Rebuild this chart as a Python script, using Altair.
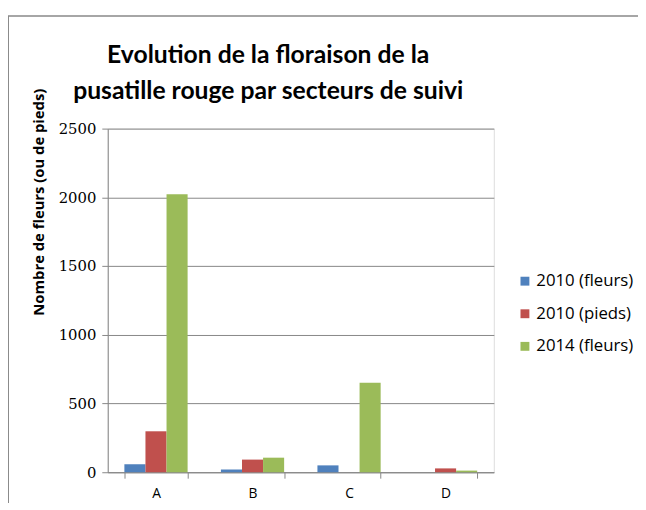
import altair as alt
import pandas as pd

sectors = ["A", "B", "C", "D"]
series = ["2010 (fleurs)", "2010 (pieds)", "2014 (fleurs)"]
v_2010_fleurs = [58, 20, 50, 0]
v_2010_pieds = [298, 92, 0, 28]
v_2014_fleurs = [2022, 106, 652, 12]
colors = ["#4F81BD", "#C0504D", "#9BBB59"]
y_ticks = [0, 500, 1000, 1500, 2000, 2500]

rows = []
for s, vals in zip(series, [v_2010_fleurs, v_2010_pieds, v_2014_fleurs]):
    for c, v in zip(sectors, vals):
        rows.append({"secteur": c, "serie": s, "valeur": v})
df = pd.DataFrame(rows)

FONT = "Lato"
FONT2 = "Open Sans"

bars = alt.Chart(df).mark_bar().encode(
    x=alt.X("secteur:N", sort=sectors,
            scale=alt.Scale(paddingInner=0.345, paddingOuter=0.1725),
            axis=alt.Axis(title=None, labelAngle=0, tickBand="extent",
                          labelFontSize=14, labelColor="#000", labelFont=FONT2,
                          domainColor="#868686", tickColor="#868686",
                          tickSize=6, labelPadding=9)),
    xOffset=alt.XOffset("serie:N", sort=series, scale=alt.Scale(paddingInner=0, paddingOuter=0)),
    y=alt.Y("valeur:Q", scale=alt.Scale(domain=[0, 2500]),
            axis=alt.Axis(values=y_ticks, format="d", title="Nombre de fleurs (ou de pieds)",
                          titleFont=FONT2, titleFontSize=15, titleFontWeight="bold",
                          titleColor="#000", titleX=-70, titleY=74,
                          titleAngle=-90, titleAlign="center", titleBaseline="middle",
                          labelFontSize=15, labelColor="#000", labelFont="DejaVu Serif",
                          domainColor="#868686", tickColor="#868686",
                          gridColor="#868686", grid=True, tickSize=6,
                          labelPadding=6)),
    color=alt.Color("serie:N", sort=series,
                    scale=alt.Scale(domain=series, range=colors),
                    legend=alt.Legend(title=None, orient="none", legendX=414, legendY=146,
                                      symbolType="square", symbolSize=81,
                                      symbolStrokeWidth=0,
                                      labelFontSize=17, labelFont=FONT2, labelColor="#000",
                                      rowPadding=15, labelOffset=3)),
)

frame_df = pd.DataFrame({"k": [0]})
top_edge = alt.Chart(frame_df).mark_rule(color="#888888", strokeWidth=1.5, clip=False).encode(
    x=alt.value(-101), x2=alt.value(600), y=alt.value(-114),
)
left_edge = alt.Chart(frame_df).mark_rule(color="#888888", strokeWidth=1, clip=False).encode(
    x=alt.value(-100.5), y=alt.value(-114), y2=alt.value(600),
)

chart = alt.layer(top_edge, left_edge, bars).properties(
    width=391, height=348,
    autosize=alt.AutoSizeParams(type="none"),
    padding={"left": 101, "top": 119, "right": 146, "bottom": 28},
    title=alt.Title(["Evolution de la floraison de la",
                     "pusatille rouge par secteurs de suivi"],
                    font=FONT, fontSize=25, fontWeight="bold", color="#000",
                    anchor="middle", dx=-33, offset=-90, lineHeight=37),
).configure_view(stroke=None).configure(background="white")

chart.save("out.html", embed_options={"renderer": "svg", "actions": False})
